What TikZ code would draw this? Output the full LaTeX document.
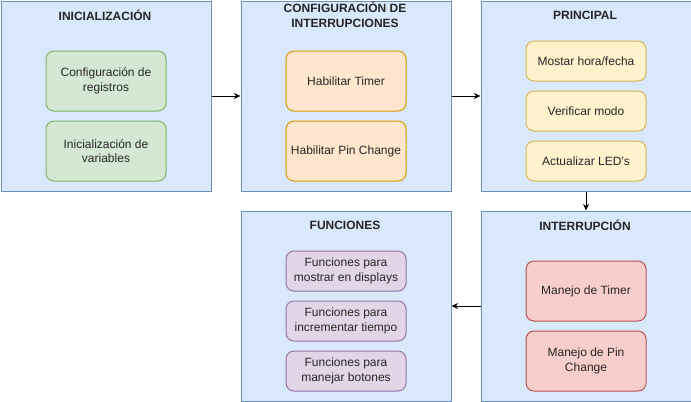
\documentclass[tikz,border=0pt]{standalone}
\usepackage{fontspec}
\setmainfont{Liberation Sans}
\usetikzlibrary{arrows.meta}
\definecolor{bluef}{HTML}{DAE8FC}\definecolor{blued}{HTML}{6C8EBF}
\definecolor{greenf}{HTML}{D5E8D4}\definecolor{greend}{HTML}{82B366}
\definecolor{orangef}{HTML}{FFE6CC}\definecolor{oranged}{HTML}{D79B00}
\definecolor{yellowf}{HTML}{FFF2CC}\definecolor{yellowd}{HTML}{D6B656}
\definecolor{purplef}{HTML}{E1D5E7}\definecolor{purpled}{HTML}{9673A6}
\definecolor{redf}{HTML}{F8CECC}\definecolor{redd}{HTML}{B85450}
\tikzset{
  outer/.style={draw=blued, fill=bluef, line width=0.75pt, minimum width=157.5pt, minimum height=142.5pt, inner sep=0pt, anchor=north west},
  inner/.style={line width=0.75pt, minimum width=90pt, rounded corners=6pt, inner sep=1pt, align=center, font=\fontsize{9}{11}\selectfont, anchor=north west, text=black!85},
  tall/.style={inner, minimum height=45pt},
  short/.style={inner, minimum height=30pt},
  grn/.style={draw=greend, fill=greenf},
  org/.style={draw=oranged, fill=orangef},
  yel/.style={draw=yellowd, fill=yellowf},
  pur/.style={draw=purpled, fill=purplef},
  rd/.style={draw=redd, fill=redf},
  title/.style={font=\fontsize{9}{11}\selectfont\bfseries, align=center, text=black!85, inner sep=0pt},
  conn/.style={-{Stealth[length=5pt,width=4.5pt]}, line width=0.75pt}
}
\begin{document}
\begin{tikzpicture}[x=0.75pt,y=-0.75pt]
\useasboundingbox (0,0) rectangle (691,401);
% outer boxes
\node[outer] (ini) at (0.5,0.5) {};
\node[outer] (conf) at (240.5,0.5) {};
\node[outer] (prin) at (480.5,0.5) {};
\node[outer] (fun) at (240.5,210.5) {};
\node[outer] (intr) at (480.5,210.5) {};
% titles
\node[title] (tini) at (105,15) {INICIALIZACIÓN};
\node[title] (tconf) at (345,15) {CONFIGURACIÓN DE\\INTERRUPCIONES};
\node[title] (tprin) at (585,15) {PRINCIPAL};
\node[title] (tfun) at (345,225) {FUNCIONES};
\node[title] (tintr) at (585,225) {INTERRUPCIÓN};
% inner boxes
\node[tall,grn] (i1) at (45.5,50.5) {Configuración de\\registros};
\node[tall,grn] (i2) at (45.5,120.5) {Inicialización de\\variables};
\node[tall,org] (c1) at (285.5,50.5) {Habilitar Timer};
\node[tall,org] (c2) at (285.5,120.5) {Habilitar Pin Change};
\node[short,yel] (p1) at (525.5,40.5) {Mostar hora/fecha};
\node[short,yel] (p2) at (525.5,90.5) {Verificar modo};
\node[short,yel] (p3) at (525.5,140.5) {Actualizar LED's};
\node[short,pur] (f1) at (285.5,250.5) {Funciones para\\mostrar en displays};
\node[short,pur] (f2) at (285.5,300.5) {Funciones para\\incrementar tiempo};
\node[short,pur] (f3) at (285.5,350.5) {Funciones para\\manejar botones};
\node[tall,rd] (r1) at (525.5,260.5) {Manejo de Timer};
\node[tall,rd] (r2) at (525.5,330.5) {Manejo de Pin\\Change};
% connectors
\draw[conn] (ini.east) -- (conf.west);
\draw[conn] (conf.east) -- (prin.west);
\draw[conn] (prin.south) -- (intr.north);
\draw[conn] (intr.west) -- (fun.east);
\end{tikzpicture}
\end{document}
